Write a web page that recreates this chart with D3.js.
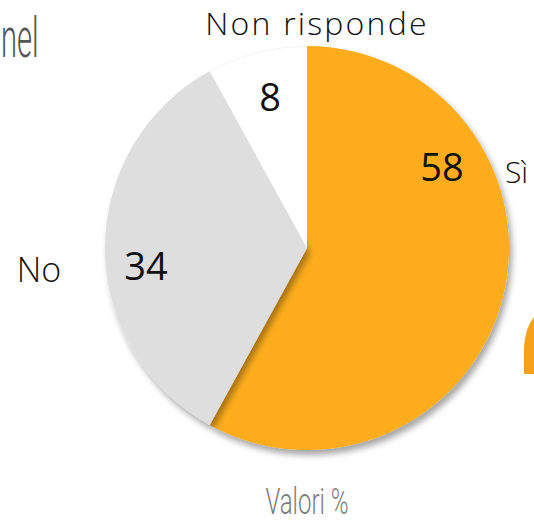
<!DOCTYPE html>
<html><head><meta charset="utf-8">
<script src="https://cdn.jsdelivr.net/npm/d3@7"></script>
<style>body{margin:0;background:#fff;overflow:hidden}</style>
</head><body>
<svg id="c" width="534" height="523"></svg>
<script>
const categories = ["Sì", "No", "Non risponde"];
const values = [58, 34, 8];
const colors = ["#FDAD1D", "#DEDEDE", "#FFFFFF"];

const svg = d3.select("#c");
const cx = 307, cy = 248, r = 202;
const defs = svg.append("defs");
const f = defs.append("filter").attr("id","sh").attr("x","-20%").attr("y","-20%").attr("width","140%").attr("height","140%");
f.append("feDropShadow").attr("dx",3).attr("dy",5).attr("stdDeviation",3).attr("flood-color","#000").attr("flood-opacity",0.35);

const pie = d3.pie().sort(null).value(d => d);
const arcs = pie(values);
const arc = d3.arc().innerRadius(0).outerRadius(r);
const g = svg.append("g").attr("transform", `translate(${cx},${cy})`);
g.selectAll("path").data(arcs).join("path")
  .attr("d", arc).attr("fill", (d,i) => colors[i])
  .attr("filter", (d,i) => i === 2 ? null : "url(#sh)");
g.append("path").datum(arcs[2]).attr("d", d3.arc().innerRadius(r-1).outerRadius(r)).attr("fill","#f2f2f2");

// value labels inside
const valPos = [[442,168],[146,267],[270,98]];
svg.selectAll("text.v").data(arcs).join("text").attr("class","v")
  .attr("x", (d,i) => valPos[i][0]).attr("y", (d,i) => valPos[i][1] + 13)
  .attr("text-anchor","middle").attr("font-family","Open Sans, Noto Sans, sans-serif")
  .attr("font-size", 38).attr("fill","#111").text(d => d.data);

// category labels outside
const catPos = [[505,183,"start",30,0],[39,282,"middle",34,0],[317,35,"middle",32,2.2]];
svg.selectAll("text.c").data(categories).join("text").attr("class","c")
  .attr("x",(d,i)=>catPos[i][0]).attr("y",(d,i)=>catPos[i][1]).attr("text-anchor",(d,i)=>catPos[i][2])
  .attr("font-family","Open Sans, sans-serif").attr("font-weight",300)
  .attr("font-size",(d,i)=>catPos[i][3]).attr("letter-spacing",(d,i)=>catPos[i][4])
  .attr("fill","#111").text(d=>d);

// slide fragments
svg.append("text").attr("transform","translate(1,57) scale(0.52,1)").attr("text-anchor","start")
  .attr("font-family","Roboto, sans-serif").attr("font-weight",300).attr("font-size",56).attr("fill","#555").text("nel");
svg.append("text").attr("transform","translate(307,514) scale(0.65,1)").attr("text-anchor","middle")
  .attr("font-family","Roboto, sans-serif").attr("font-weight",300).attr("font-size",37).attr("fill","#7d7d7d").text("Valori %");
svg.append("path").attr("d","M529 374 L529 348 Q530 326 542 316")
  .attr("fill","none").attr("stroke","#F7A11A").attr("stroke-width",10);
</script>
</body></html>
